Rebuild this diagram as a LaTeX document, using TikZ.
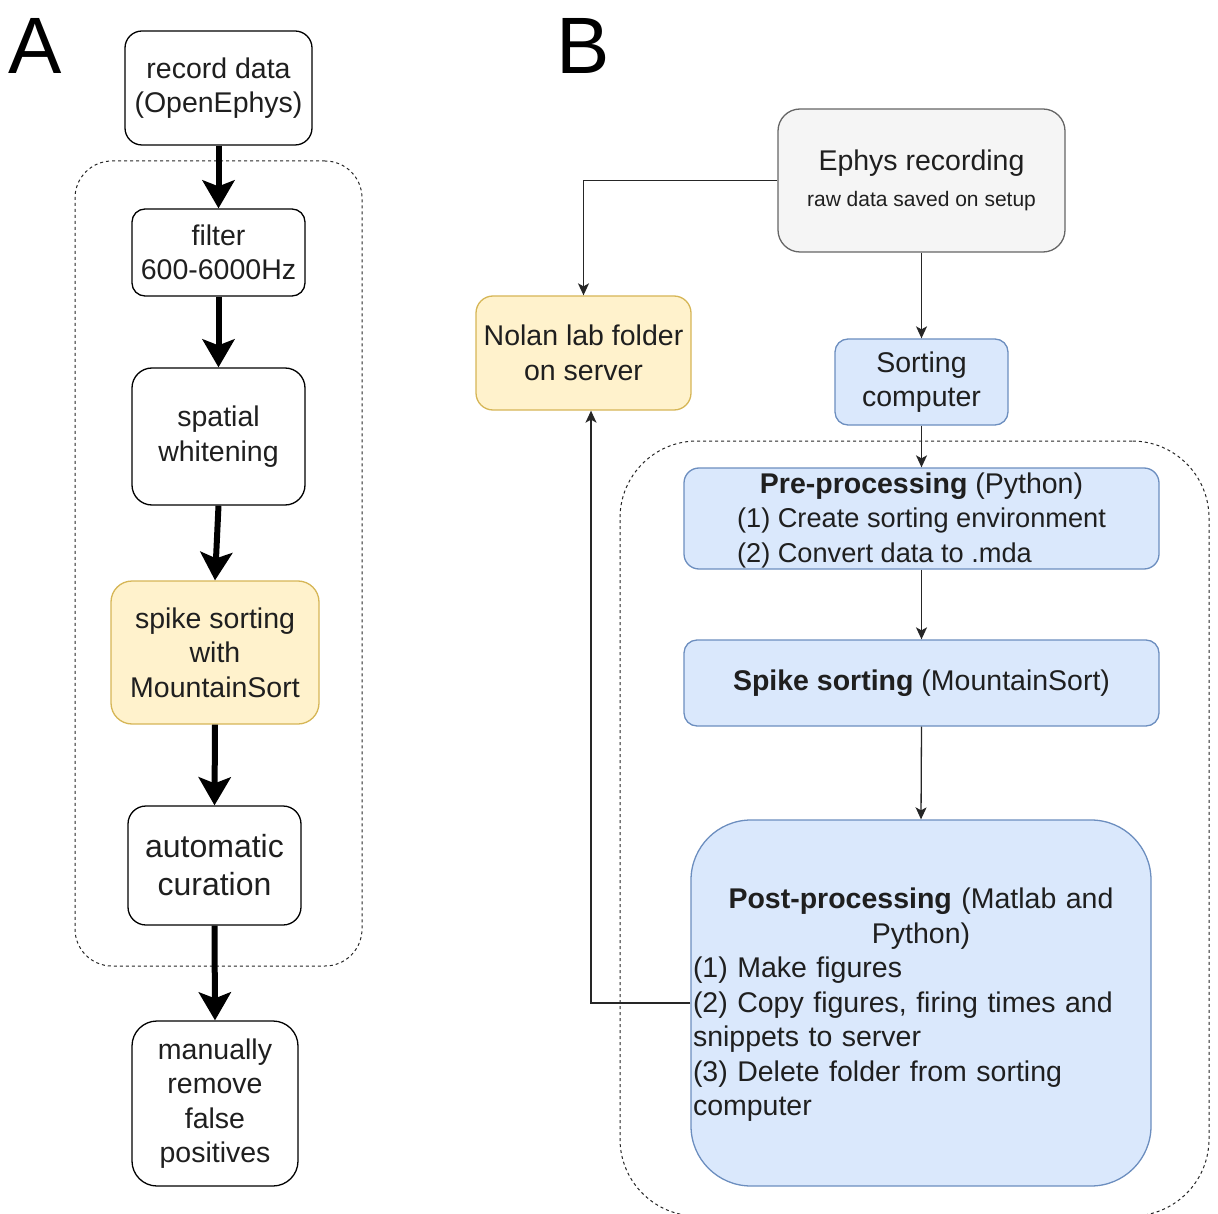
\documentclass[tikz,border=0pt]{standalone}
\usepackage{fontspec}
\setmainfont{Liberation Sans}
\usetikzlibrary{arrows.meta}
\definecolor{txt}{HTML}{1F1F1F}
\definecolor{yfill}{HTML}{FFF2CC}
\definecolor{ydraw}{HTML}{D6B656}
\definecolor{bfill}{HTML}{DAE8FC}
\definecolor{bdraw}{HTML}{6C8EBF}
\definecolor{gfill}{HTML}{F5F5F5}
\definecolor{gdraw}{HTML}{666666}
\begin{document}
\begin{tikzpicture}[x=1pt,y=-1pt,
  every node/.style={inner sep=0pt, text=txt, font=\fontsize{28.5}{34.5}\selectfont},
  wbox/.style={draw=black, line width=1.3pt, fill=white, align=center},
  ybox/.style={draw=ydraw, line width=1.3pt, fill=yfill, align=center},
  bbox/.style={draw=bdraw, line width=1.3pt, fill=bfill, align=center},
  gbox/.style={draw=gdraw, line width=1.3pt, fill=gfill, align=center},
  group/.style={draw=black!85, line width=1pt, dash pattern=on 3pt off 3pt},
  thick arrow/.style={line width=6pt, -{Stealth[length=28pt, width=32pt, inset=6pt]}},
  thin arrow/.style={line width=1.3pt, draw=black!85, -{Stealth[length=12pt, width=11pt, inset=3pt]}},
  panel/.style={anchor=base west, font=\fontsize{80}{90}\selectfont, text=black}
]
\useasboundingbox (0,0) rectangle (1218,1214);

% ---------- Panel A ----------
\node[panel] (labA) at (8,74) {A};
\node[group, rounded corners=37pt, minimum width=287pt, minimum height=805pt] (contA) at (218.5,563.5) {};

\node[wbox, rounded corners=17pt, minimum width=187pt, minimum height=114pt] (rec) at (218.5,88) {record data\\(OpenEphys)};
\node[wbox, rounded corners=13pt, minimum width=173pt, minimum height=87pt] (fil) at (218.5,252.5) {filter\\600-6000Hz};
\node[wbox, rounded corners=20pt, minimum width=173pt, minimum height=137pt] (spw) at (218.5,436.5) {spatial\\whitening};
\node[ybox, rounded corners=21pt, minimum width=208pt, minimum height=143pt] (spk) at (215,652.5) {spike sorting\\with\\MountainSort};
\node[wbox, rounded corners=18pt, minimum width=173pt, minimum height=119pt, font=\fontsize{32}{38}\selectfont] (aut) at (214.5,865.5) {automatic\\curation};
\node[wbox, rounded corners=25pt, minimum width=166pt, minimum height=165pt] (man) at (215,1103.5) {manually\\remove\\false\\positives};

\draw[thick arrow] (rec.south) -- (fil.north);
\draw[thick arrow] (fil.south) -- (spw.north);
\draw[thick arrow] (spw.south) -- (spk.north);
\draw[thick arrow] (spk.south) -- (aut.north);
\draw[thick arrow] (aut.south) -- (man.north);

% ---------- Panel B ----------
\node[panel] (labB) at (556,74) {B};
\node[group, rounded corners=77pt, minimum width=589pt, minimum height=775pt] (contB) at (914.5,828.5) {};

\node[gbox, rounded corners=22pt, minimum width=287pt, minimum height=143pt] (eph) at (921.5,180.5)
  {Ephys recording\\[2pt]{\fontsize{21}{25}\selectfont raw data saved on setup}};
\node[ybox, rounded corners=17pt, minimum width=215pt, minimum height=114pt] (nol) at (583.5,353) {Nolan lab folder\\on server};
\node[bbox, rounded corners=13pt, minimum width=173pt, minimum height=86pt] (sc) at (921.5,382) {Sorting\\computer};
\node[bbox, rounded corners=15pt, minimum width=475pt, minimum height=101pt] (pre) at (921.5,518.5) {};
\node[align=center] (pretxt) at (921.5,522.5)
  {\textbf{Pre-processing} (Python)\\
   {\fontsize{27.2}{34.5}\selectfont\begin{tabular}[t]{@{}l@{}}(1) Create sorting environment\\(2) Convert data to .mda\end{tabular}}};
\node[bbox, rounded corners=13pt, minimum width=475pt, minimum height=86pt] (sps) at (921.5,683)
  {\textbf{Spike sorting} (MountainSort)};
\node[bbox, rounded corners=60pt, minimum width=460pt, minimum height=366pt] (post) at (921,1003) {};
\node[text width=456pt] (posttxt) at (921,1005)
  {\parindent=0pt\centering\textbf{Post-processing} (Matlab and\\Python)\par
   \raggedright(1) Make figures\\(2) Copy figures, firing times and\\snippets to server\\(3) Delete folder from sorting\\computer\par};

\draw[thin arrow] (eph.west) -| (nol.north);
\draw[thin arrow] (eph.south) -- (sc.north);
\draw[thin arrow] (sc.south) -- (pre.north);
\draw[thin arrow] (pre.south) -- (sps.north);
\draw[thin arrow] (sps.south) -- (post.north);
\draw[thin arrow] (post.west) -| ([xshift=7.5pt]nol.south);
\end{tikzpicture}
\end{document}
